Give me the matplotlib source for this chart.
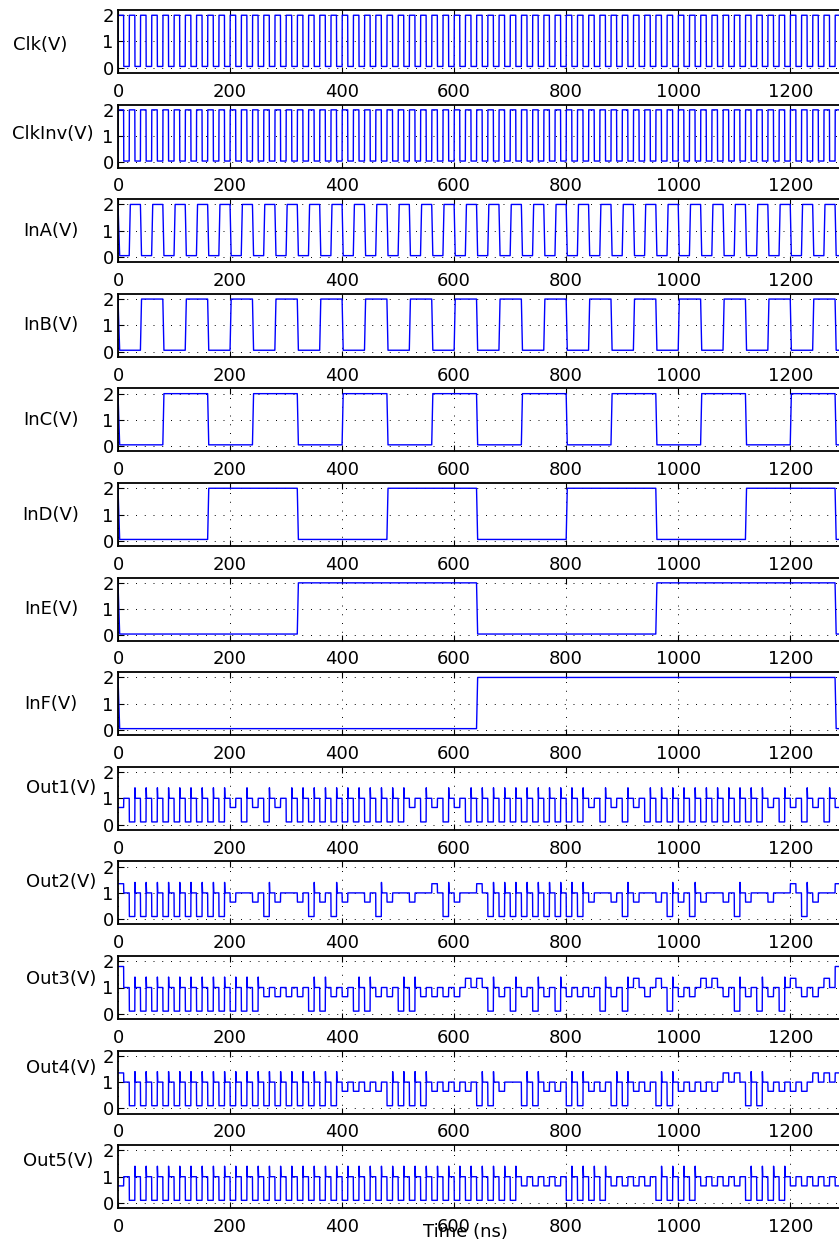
import numpy as np
import matplotlib
matplotlib.use("Agg")
import matplotlib.pyplot as plt

plt.rcParams['font.family'] = ['DejaVu Sans']

# DATA
LABELS = ["Clk(V)", "ClkInv(V)", "InA(V)", "InB(V)", "InC(V)", "InD(V)", "InE(V)", "InF(V)",
          "Out1(V)", "Out2(V)", "Out3(V)", "Out4(V)", "Out5(V)"]
T_END = 1290                  # ns, right edge of the picture
CLK_HALF = 10                 # ns, clock high / low time
IN_TOGGLE = [20, 40, 80, 160, 320, 640]   # ns between edges of InA..InF
V_HIGH = 2.0
V_LOW = 0.05

# output level in each 20 ns cycle: first 10 ns (eval), last 10 ns precharge to 1 V
# L = 0.1 V, M = 0.65 V, H = 1.0 V, U = 1.35 V, T = 1.8 V
LEVELS = {"L": 0.1, "M": 0.65, "H": 1.0, "U": 1.35, "T": 1.8}
PRE_V = 1.0
SPIKE_V = 1.4
OUT_EVAL = [
    # Out1
    "M" + "LLLLLLL" + "LLMLMLML" + "LLLLLLLL" + "LLMLMLML"
    + "LLLLLLLL" + "LLMLMLML" + "LLLLLLLL" + "LLMLMLML" + "M",
    # Out2
    "U" + "LLLLLLL" + "LLMHMLMH" + "MLMLMHML" + "MHMHULMH"
    + "U" + "LLLLLLL" + "LLMHMLMH" + "MLMLMHML" + "MHMHULMH" + "U",
    # Out3
    "T" + "LLLLLLL" + "LLLLLMMM" + "MLLMMLLM" + "MLLMMMMU"
    + "ULMLMLML" + "MMMLMLUM" + "ULMMUUML" + "MLMLUMMU" + "T",
    # Out4
    "U" + "LLLLLLL" + "LLLLLLLL" + "LLLLMMMM" + "LLLLMMMM"
    + "LLMHLLMM" + "LLMMLLMM" + "LLMMMMUU" + "LLMMMMUU" + "U",
    # Out5
    "M" + "LLLLLLL" + "LLLLLLLL" + "LLLLLLLL" + "LLLLLLLL"
    + "LLLLMMMM" + "LLLLMMMM" + "LLLLMMMM" + "LLLLMMMM" + "M",
]


def clock_wave():
    t, v = [0.0], [0.0]
    edge = 0.0
    high = True
    while edge < T_END:
        lvl = V_HIGH if high else V_LOW
        t += [edge + 0.3, edge + CLK_HALF]
        v += [lvl, lvl]
        edge += CLK_HALF
        high = not high
    return np.array(t), np.array(v)


def input_wave(toggle):
    t, v = [0.0, 3.0], [V_HIGH, V_LOW]
    edge = toggle
    high = True
    while edge < T_END + toggle:
        lvl = V_HIGH if high else V_LOW
        prev = V_LOW if high else V_HIGH
        t += [edge, edge + 2.0]
        v += [prev, lvl]
        edge += toggle
        high = not high
    return np.array(t), np.array(v)


def output_wave(ev):
    t, v = [], []
    for m, code in enumerate(ev):
        e = LEVELS[code]
        t0 = 20.0 * m
        t += [t0 + 0.3, t0 + 10.0]
        v += [e, e]
        if code == "L":
            t += [t0 + 10.3, t0 + 11.0]
            v += [SPIKE_V, PRE_V]
        else:
            t += [t0 + 10.3]
            v += [PRE_V]
        t += [t0 + 20.0]
        v += [PRE_V]
    return np.array(t), np.array(v)


waves = [clock_wave(), clock_wave()]
waves += [input_wave(tg) for tg in IN_TOGGLE]
waves += [output_wave(e) for e in OUT_EVAL]

# LAYOUT (pixels of an 839 x 1258 image)
W, H = 839, 1258
fig = plt.figure(figsize=(W / 100, H / 100), dpi=100)
left = 118
px_per_ns = 0.5602
xmax = 1300
top0 = 10
pitch = 94.6
ax_h = 63
label_x = [40, 53, 51, 51, 51, 51, 51, 51, 61, 61, 61, 61, 58]
label_dy = [4, -2, 0, 0, 0, 0, 0, 0, -10, -11, -8, -14, -16]

for i, (lab, (t, v)) in enumerate(zip(LABELS, waves)):
    top = top0 + i * pitch
    ax = fig.add_axes([left / W, 1 - (top + ax_h) / H, xmax * px_per_ns / W, ax_h / H])
    ax.plot(t, v, color="blue", linewidth=1.0)
    ax.set_xlim(0, xmax)
    ax.set_ylim(-0.2, 2.2)
    ax.set_xticks(range(0, 1400, 200))
    ax.set_yticks([0, 1, 2])
    ax.tick_params(direction="in", length=4, width=0.8, labelsize=13,
                   top=True, right=True)
    ax.tick_params(axis="x", pad=7)
    ax.tick_params(axis="y", pad=3)
    ax.grid(True, color="black", linestyle=(0, (1, 8)), linewidth=0.7)
    for s in ax.spines.values():
        s.set_linewidth(1.3)
    fig.text(label_x[i] / W, 1 - (top + ax_h / 2 + label_dy[i]) / H, lab,
             ha="center", va="center", fontsize=13)

fig.text(465 / W, 1 - 1232 / H, "Time (ns)", ha="center", va="center", fontsize=13)

fig.savefig("out.png", dpi=100)
